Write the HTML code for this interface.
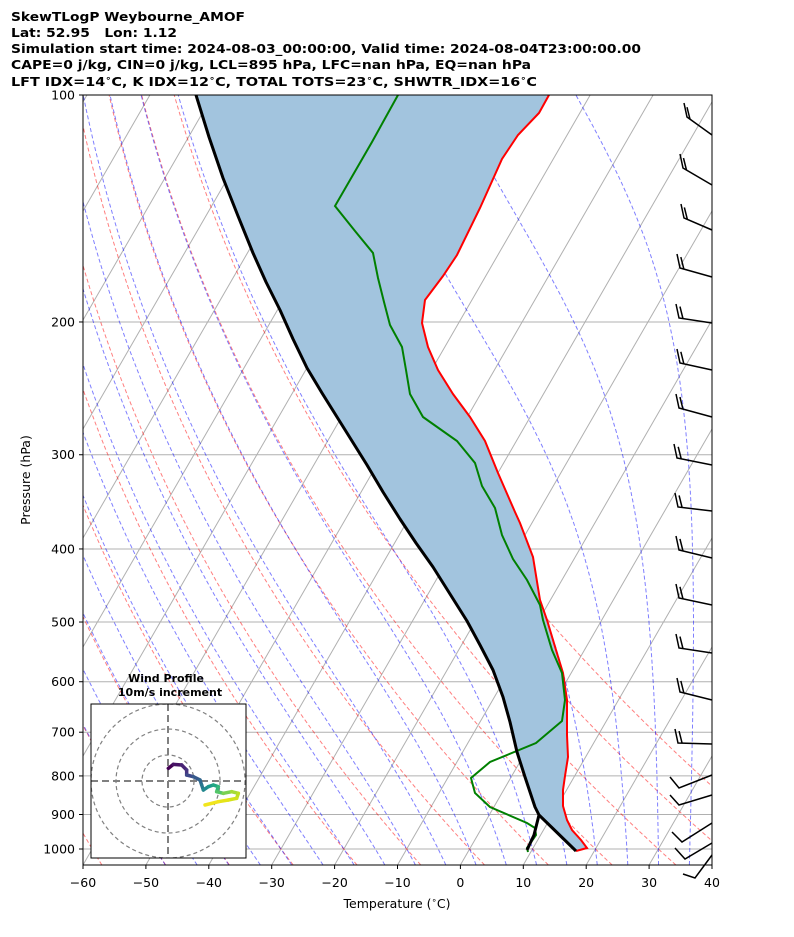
<!DOCTYPE html>
<html><head><meta charset="utf-8">
<style>
body{margin:0;background:#fff;}
svg{display:block;font-family:"DejaVu Sans","Liberation Sans",sans-serif;}
</style></head><body>
<svg id="s" width="794" height="937" xmlns="http://www.w3.org/2000/svg">
<defs><clipPath id="c"><rect x="83" y="95" width="629" height="770"/></clipPath>
<clipPath id="ci"><rect x="91" y="704" width="155" height="154"/></clipPath></defs>
<g font-weight="bold" font-size="12.5" fill="#000">
<text x="11" y="21" textLength="234" lengthAdjust="spacingAndGlyphs">SkewTLogP Weybourne_AMOF</text>
<text x="11" y="37" xml:space="preserve" textLength="166" lengthAdjust="spacingAndGlyphs">Lat: 52.95   Lon: 1.12</text>
<text x="11" y="53" textLength="630" lengthAdjust="spacingAndGlyphs">Simulation start time: 2024-08-03_00:00:00, Valid time: 2024-08-04T23:00:00.00</text>
<text x="11" y="69" textLength="520" lengthAdjust="spacingAndGlyphs">CAPE=0 j/kg, CIN=0 j/kg, LCL=895 hPa, LFC=nan hPa, EQ=nan hPa</text>
<text x="11" y="86" textLength="526" lengthAdjust="spacingAndGlyphs">LFT IDX=14<tspan font-size="8.5" dy="-5">∘</tspan><tspan dy="5">C, K IDX=12</tspan><tspan font-size="8.5" dy="-5">∘</tspan><tspan dy="5">C, TOTAL TOTS=23</tspan><tspan font-size="8.5" dy="-5">∘</tspan><tspan dy="5">C, SHWTR_IDX=16</tspan><tspan font-size="8.5" dy="-5">∘</tspan><tspan dy="5">C</tspan></text>
</g>
<g id="bg" clip-path="url(#c)"></g>
<g id="data" clip-path="url(#c)"></g>
<g id="barbs" stroke="#000" stroke-width="1.5" fill="none"></g>
<rect x="83" y="95" width="629" height="770" fill="none" stroke="#000" stroke-width="1"/>
<g id="ticks" font-size="12.5" fill="#000"></g>
<text x="397" y="908" font-size="12.5" text-anchor="middle">Temperature (<tspan font-size="8.5" dy="-5">∘</tspan><tspan dy="5">C)</tspan></text>
<text transform="translate(30,480) rotate(-90)" font-size="12.5" text-anchor="middle">Pressure (hPa)</text>
<g id="inset"></g>
</svg>
<script>
const NS="http://www.w3.org/2000/svg";
function el(p,t,a){const e=document.createElementNS(NS,t);for(const k in a)e.setAttribute(k,a[k]);p.appendChild(e);return e;}
const yP=p=>95+754*Math.log10(p/100);
const xT=(T,y)=>83+(T+60)*6.29+(865-y)*0.577;
const bg=document.getElementById('bg');
function poly(g,pts,a){a.points=pts.map(q=>q[0].toFixed(1)+','+q[1].toFixed(1)).join(' ');a.fill=a.fill||'none';return el(g,'polyline',a);}
const ps=[];for(let p=1050;p>=100;p-=5)ps.push(p);
[100,200,300,400,500,600,700,800,900,1000].forEach(p=>el(bg,'line',{x1:83,x2:712,y1:yP(p),y2:yP(p),stroke:'#b0b0b0','stroke-width':1}));
for(let T=-160;T<=40;T+=10){poly(bg,[[xT(T,865),865],[xT(T,95),95]],{stroke:'#b0b0b0','stroke-width':1});}
for(let t=-80;t<=50;t+=10){const th=t+273.15;poly(bg,ps.map(p=>{const T=th*Math.pow(p/1000,0.2857)-273.15;const y=yP(p);return[xT(T,y),y];}),{stroke:'#ff0000','stroke-opacity':0.5,'stroke-width':1,'stroke-dasharray':'4,2.5'});}
function dTdp(p,T){const es=6.112*Math.exp(17.67*(T-273.15)/(T-29.65));const rs=0.622*es/(p-es);const Rd=287.04,Cp=1005.7,Lv=2.501e6;return (Rd*T+Lv*rs)/(Cp+Lv*Lv*rs*0.622/(Rd*T*T))/p;}
for(let t=-50;t<=45;t+=5){let T=t+273.15;const pts=[];
 let Td=T;for(let p=1000;p<1050;p+=1){Td+=dTdp(p,Td);}
 let Tc=Td;for(let p=1050;p>=100;p-=1){if(p%5==0){const y=yP(p);pts.push([xT(Tc-273.15,y),y]);}
  const k1=dTdp(p,Tc),k2=dTdp(p-0.5,Tc-0.5*k1);Tc-=k2;}
 poly(bg,pts,{stroke:'#0000ff','stroke-opacity':0.5,'stroke-width':1,'stroke-dasharray':'4,2.5'});}
const d=document.getElementById('data');
const red=[[549,95],[539,113],[518,135],[502,159],[480,208],[457,255],[443,276],[425,300],[422,323],[428,347],[438,370],[453,394],[470,417],[485,441],[498,473],[515,512],[520,523],[533,557],[540,600],[547,620],[556,650],[563,673],[567,700],[567,735],[568,757],[565,776],[563,790],[563,806],[567,820],[572,830],[581,840],[587,848],[576,851]];
const blk=[[196,95],[209,137],[223,178],[238,216],[253,253],[266,282],[280,310],[293,339],[307,368],[322,393],[337,417],[352,441],[367,465],[383,492],[400,519],[416,543],[433,567],[450,594],[467,621],[480,645],[493,670],[503,697],[510,722],[517,752],[525,777],[535,807],[539,815],[576,851]];
const fill=red.concat(blk.slice().reverse());
el(d,'polygon',{points:fill.map(q=>q.join(',')).join(' '),fill:'#a2c4de'});
const grn=[[398,95],[372,142],[335,206],[355,231],[373,253],[378,278],[384,302],[390,325],[402,347],[406,370],[410,394],[423,417],[457,441],[475,463],[482,486],[495,508],[502,535],[513,559],[527,580],[540,605],[543,620],[552,650],[562,673],[565,700],[562,721],[536,743],[490,762],[471,778],[475,793],[490,807],[527,823],[535,828],[536,835],[527,848],[528,852]];
poly(d,red,{stroke:'#ff0000','stroke-width':2});
poly(d,grn,{stroke:'#008000','stroke-width':2});
poly(d,blk,{stroke:'#000','stroke-width':3,'stroke-linejoin':'round'});
poly(d,[[539,815],[534,835],[527,850]],{stroke:'#000','stroke-width':3});
const tk=document.getElementById('ticks');
[100,200,300,400,500,600,700,800,900,1000].forEach(p=>{const y=yP(p);el(tk,'line',{x1:79,x2:83,y1:y,y2:y,stroke:'#000'});const t=el(tk,'text',{x:75,y:y+4.5,'text-anchor':'end'});t.textContent=p;});
for(let T=-60;T<=40;T+=10){const x=83+(T+60)*6.29;el(tk,'line',{x1:x,x2:x,y1:865,y2:869,stroke:'#000'});const t=el(tk,'text',{x:x,y:887,'text-anchor':'middle'});t.textContent=(T<0?'\u2212':'')+Math.abs(T);}
const b=document.getElementById('barbs');
const up=[[135,687,117],[185,683,168],[230,684,218],[277,680,268],[323,679,318],[370,680,363],[417,679,408],[465,677,458],[511,678,507],[558,679,550],[605,679,598],[653,679,648],[700,680,692],[744,678,743]];
up.forEach(([yr,xl,yl])=>{poly(b,[[712,yr],[xl,yl],[xl-3,yl-14]],{});const f=0.12;const bx=xl+(712-xl)*f,by=yl+(yr-yl)*f;el(b,'line',{x1:bx,y1:by,x2:bx-3,y2:by-12});});
[[775,679,788,670,777],[795,679,805,670,795],[823,682,842,672,832],[843,685,859,675,848],[855,695,878,683,874]].forEach(([yr,xl,yl,bx,by])=>{poly(b,[[712,yr],[xl,yl],[bx,by]],{});});
const ins=document.getElementById('inset');
el(ins,'rect',{x:91,y:704,width:155,height:154,fill:'#fff'});
const ig=el(ins,'g',{'clip-path':'url(#ci)'});
[26,52,77].forEach(r=>el(ig,'circle',{cx:168,cy:781,r:r,fill:'none',stroke:'#808080','stroke-width':1.2,'stroke-dasharray':'4,3'}));
el(ig,'line',{x1:91,x2:246,y1:781,y2:781,stroke:'#808080','stroke-width':2,'stroke-dasharray':'7,4'});
el(ig,'line',{x1:168,x2:168,y1:704,y2:858,stroke:'#808080','stroke-width':2,'stroke-dasharray':'7,4'});
const tr=[[250,310],[265,298],[290,300],[305,315],[305,330],[325,335],[345,345],[350,360],[355,375],[370,365],[385,360],[400,365],[395,380],[415,385],[440,380],[460,385],[455,400],[430,405],[400,410],[360,420]].map(q=>[85+q[0]/3,665+q[1]/3]);
const cols=['#440154','#471365','#482475','#463480','#3e4989','#375a8c','#31688e','#2a788e','#23888e','#1f988b','#22a884','#35b779','#54c568','#7ad151','#a5db36','#bddf26','#d2e21b','#e5e419','#f1e51d','#fde725'];
for(let i=0;i<tr.length-1;i++)el(ig,'line',{x1:tr[i][0],y1:tr[i][1],x2:tr[i+1][0],y2:tr[i+1][1],stroke:cols[i],'stroke-width':3.5,'stroke-linecap':'round'});
el(ins,'rect',{x:91,y:704,width:155,height:154,fill:'none',stroke:'#000','stroke-width':1});
const t1=el(ins,'text',{x:166,y:682,'text-anchor':'middle','font-size':11,'font-weight':'bold'});t1.textContent='Wind Profile';
const t2=el(ins,'text',{x:170,y:696,'text-anchor':'middle','font-size':11,'font-weight':'bold'});t2.textContent='10m/s increment';
</script>
</body></html>
